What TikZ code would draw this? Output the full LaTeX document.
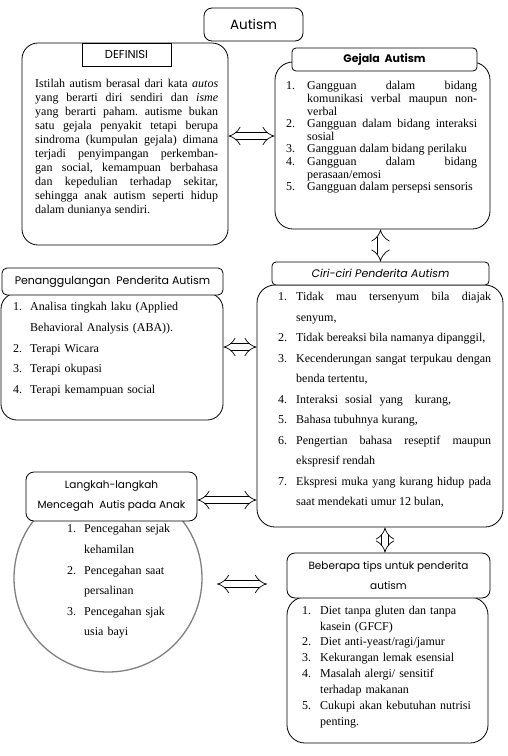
\documentclass[tikz,border=0pt]{standalone}
\usepackage{fontspec}
\setmainfont{Liberation Serif}
\newfontfamily\headfont{Poppins}
\usepackage{enumitem}
\setlist[enumerate]{label=\arabic*., align=left, labelindent=0pt, labelsep=0pt,
  itemsep=0pt, parsep=0pt, topsep=0pt, partopsep=0pt}
\usetikzlibrary{arrows.meta}
\frenchspacing

\begin{document}
\begin{tikzpicture}[x=1pt, y=-1pt,
  body/.style={draw, line width=0.8pt, rounded corners=16pt, fill=white, inner sep=0pt},
  tab/.style={draw, line width=0.8pt, rounded corners=4pt, fill=white, inner sep=0pt},
  head/.style={font=\headfont\fontsize{10.5}{20}\selectfont, align=center},
  txt/.style={anchor=north west, inner sep=0pt},
  link/.style={double, double distance=6pt, line width=0.7pt, {Implies}-{Implies}}]

\useasboundingbox (0,0) rectangle (508,756);

% Title
\node[body, rounded corners=8pt, minimum width=99pt, minimum height=33pt,
  font=\headfont\fontsize{13.5}{16}\selectfont] (title) at (253.5,24.5) {Autism};

% Definisi
\node[body, minimum width=206pt, minimum height=202pt] (def) at (125,144) {};
\node[tab, rounded corners=0pt, minimum width=89pt, minimum height=23pt, head,
  font=\headfont\fontsize{11.5}{13}\selectfont] (deftab) at (126.5,54.5) {DEFINISI};
\node[txt, text width=183pt, align=justify, font=\fontsize{12}{14.1}\selectfont] (deftext) at (35,78.5)
  {Istilah autism berasal dari kata \emph{autos}\linebreak
   yang berarti diri sendiri dan \emph{isme}\linebreak
   yang berarti paham. autisme bukan\linebreak
   satu gejala penyakit tetapi berupa\linebreak
   sindroma (kumpulan gejala) dimana\linebreak
   terjadi penyimpangan perkemban-\linebreak
   gan social, kemampuan berbahasa\linebreak
   dan kepedulian terhadap sekitar,\linebreak
   sehingga anak autism seperti hidup\linebreak
   dalam dunianya sendiri.};

% Gejala
\node[body, rounded corners=18pt, minimum width=215pt, minimum height=167pt] (gej) at (382.5,145.5) {};
\node[tab, minimum width=185pt, minimum height=23pt, head,
  font=\headfont\bfseries\fontsize{11}{13}\selectfont] (gejtab) at (384.5,59.5) {Gejala\ \ Autism};
\node[txt, text width=191pt, align=justify, font=\fontsize{12}{12.6}\selectfont] (gejlist) at (286,77)
  {\begin{enumerate}[leftmargin=21pt, labelwidth=21pt]
   \item Gangguan dalam bidang\linebreak komunikasi verbal maupun non-\linebreak verbal
   \item Gangguan dalam bidang interaksi\linebreak sosial
   \item Gangguan dalam bidang perilaku
   \item Gangguan dalam bidang\linebreak perasaan/emosi
   \item Gangguan dalam persepsi sensoris
   \end{enumerate}};

% Ciri-ciri
\node[body, rounded corners=18pt, minimum width=246pt, minimum height=242pt] (ciri) at (380,406) {};
\node[tab, minimum width=217pt, minimum height=23pt, head,
  font=\headfont\itshape\fontsize{11}{13}\selectfont] (ciritab) at (380.5,273.5) {Ciri-ciri Penderita Autism};
\node[txt, text width=213pt, align=justify, font=\fontsize{12}{20.5}\selectfont] (cirilist) at (278,280)
  {\begin{enumerate}[leftmargin=18pt, labelwidth=18pt]
   \item Tidak mau tersenyum bila diajak\linebreak senyum,
   \item Tidak bereaksi bila namanya dipanggil,
   \item Kecenderungan sangat terpukau dengan\linebreak benda tertentu,
   \item Interaksi\hspace{7pt}sosial\hspace{7pt}yang\hspace{12pt}kurang,
   \item Bahasa tubuhnya kurang,
   \item Pengertian bahasa reseptif maupun\linebreak ekspresif rendah
   \item Ekspresi muka yang kurang hidup pada\linebreak saat mendekati umur 12 bulan,
   \end{enumerate}};

% Penanggulangan
\node[body, minimum width=222pt, minimum height=127pt] (pen) at (112,356.5) {};
\node[tab, rounded corners=5pt, minimum width=221pt, minimum height=27pt, head,
  font=\headfont\fontsize{11}{13}\selectfont] (pentab) at (112.5,281.5) {Penanggulangan\ \ Penderita Autism};
\node[txt, text width=195pt, align=left, font=\fontsize{12}{20.6}\selectfont] (penlist) at (13,290)
  {\begin{enumerate}[leftmargin=17pt, labelwidth=17pt]
   \item Analisa tingkah laku (Applied\newline Behavioral Analysis (ABA)).
   \item Terapi Wicara
   \item Terapi okupasi
   \item Terapi kemampuan social
   \end{enumerate}};

% Langkah-langkah
\node[draw=gray, line width=1.3pt, circle, minimum size=188pt] (cegah) at (108,578) {};
\node[body, rounded corners=8pt, minimum width=171pt, minimum height=49pt, head] (langkah) at (111.5,496.5)
  {Langkah-langkah\\Mencegah\ \ Autis pada Anak};
\node[txt, text width=110pt, align=left, font=\fontsize{12}{20.6}\selectfont] (cegahlist) at (67,512)
  {\begin{enumerate}[leftmargin=17pt, labelwidth=17pt]
   \item Pencegahan sejak\newline kehamilan
   \item Pencegahan saat\newline persalinan
   \item Pencegahan sjak\newline usia bayi
   \end{enumerate}};

% Tips
\node[body, rounded corners=18pt, minimum width=201pt, minimum height=146pt] (tips) at (387.5,670) {};
\node[tab, rounded corners=8pt, minimum width=203pt, minimum height=45pt, head] (tipstab) at (388.5,575.5)
  {Beberapa tips untuk penderita\\autism};
\node[txt, text width=185pt, align=left, font=\fontsize{12}{15.9}\selectfont] (tipslist) at (302,598)
  {\begin{enumerate}[leftmargin=18pt, labelwidth=18pt]
   \item Diet tanpa gluten dan tanpa\newline kasein (GFCF)
   \item Diet anti-yeast/ragi/jamur
   \item Kekurangan lemak esensial
   \item Masalah alergi/ sensitif\newline terhadap makanan
   \item Cukupi akan kebutuhan nutrisi\newline penting.
   \end{enumerate}};

% Arrows
\coordinate (a1) at ([yshift=8pt]def.east);
\coordinate (a2) at ([yshift=9.5pt]pen.east);
\coordinate (a3) at ([yshift=-3.5pt]langkah.east);
\coordinate (a4) at ([xshift=-2pt]gej.south);
\coordinate (a5) at ([xshift=5pt]ciri.south);
\coordinate (a6) at (217,584);
\coordinate (a7) at (267,584);
\draw[link] (a1) -- (a1 -| gej.west);
\draw[link] (a2) -- (a2 -| ciri.west);
\draw[link] (a3) -- (a3 -| ciri.west);
\draw[link] (a4) -- (a4 |- ciritab.north);
\draw[link] (a5) -- (a5 |- tipstab.north);
\draw[link] (a6) -- (a7);

\end{tikzpicture}
\end{document}
